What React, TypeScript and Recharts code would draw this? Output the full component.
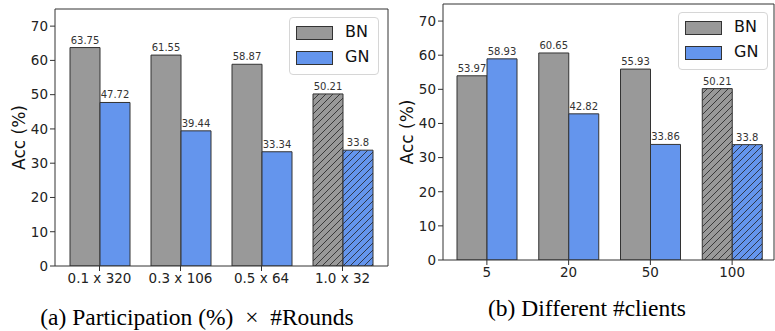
import React from "react";
import { BarChart, Bar, XAxis, YAxis, Cell, LabelList } from "recharts";

const participationCats = ["0.1 x 320", "0.3 x 106", "0.5 x 64", "1.0 x 32"];
const participationBN = [63.75, 61.55, 58.87, 50.21];
const participationGN = [47.72, 39.44, 33.34, 33.8];

const clientCats = ["5", "20", "50", "100"];
const clientBN = [53.97, 60.65, 55.93, 50.21];
const clientGN = [58.93, 42.82, 33.86, 33.8];

const yTicks = [0, 10, 20, 30, 40, 50, 60, 70];
const seriesNames = ["BN", "GN"];

// the last group (full participation / 100 clients) is hatched
const HATCHED = 3;

const GRAY = "#999999";
const BLUE = "#6495ED";
const EDGE = "#333333";
const FONT = "'DejaVu Sans', sans-serif";

function buildRows(cats: string[], bn: number[], gn: number[]) {
  return cats.map((c, i) => ({ cat: c, BN: bn[i], GN: gn[i] }));
}

function LegendBox({ left, top }: { left: number; top: number }) {
  const items = [
    { name: seriesNames[0], color: GRAY },
    { name: seriesNames[1], color: BLUE },
  ];
  return (
    <div
      style={{
        position: "absolute",
        left,
        top,
        width: 88,
        height: 56,
        border: "1px solid #d6d6d6",
        borderRadius: 4,
        background: "rgba(255,255,255,0.85)",
        fontFamily: FONT,
      }}
    >
      {items.map((it, i) => (
        <div key={it.name}>
          <div
            style={{
              position: "absolute",
              left: 6,
              top: 8 + i * 25,
              width: 35,
              height: 12,
              background: it.color,
              border: `1px solid ${EDGE}`,
            }}
          />
          <div
            style={{
              position: "absolute",
              left: 55,
              top: 4 + i * 25,
              fontSize: 16,
              lineHeight: "20px",
              color: "#111",
            }}
          >
            {it.name}
          </div>
        </div>
      ))}
    </div>
  );
}

interface PanelProps {
  cats: string[];
  bn: number[];
  gn: number[];
  width: number;
  height: number;
  margin: { top: number; right: number; left: number; bottom: number };
  yWidth: number;
  labelOffset: number;
  padding: { left: number; right: number };
}

function Panel({ cats, bn, gn, width, height, margin, yWidth, labelOffset, padding }: PanelProps) {
  const rows = buildRows(cats, bn, gn);
  const tickStyle = { fontSize: 13.5, fill: "#222", fontFamily: FONT };
  const valueStyle = { fontSize: 10, fill: "#333", fontFamily: FONT };
  return (
    <BarChart
      width={width}
      height={height}
      data={rows}
      margin={margin}
      barGap={0}
      barCategoryGap={11}
    >
      <XAxis
        dataKey="cat"
        height={34}
        padding={padding}
        tick={tickStyle}
        tickSize={5}
        tickMargin={2}
        stroke={EDGE}
        interval={0}
      />
      {/* top and right spines to close the box */}
      <XAxis
        xAxisId="top"
        dataKey="cat"
        orientation="top"
        height={1}
        tick={false}
        tickLine={false}
        stroke={EDGE}
      />
      <YAxis
        width={yWidth}
        domain={[0, 75]}
        ticks={yTicks}
        tick={tickStyle}
        tickSize={5}
        tickMargin={2}
        stroke={EDGE}
        allowDataOverflow
        label={{
          value: "Acc (%)",
          angle: -90,
          position: "insideLeft",
          offset: labelOffset,
          style: { fontSize: 17, fill: "#111", fontFamily: FONT, textAnchor: "middle" },
        }}
      />
      <YAxis
        yAxisId="right"
        orientation="right"
        width={1}
        domain={[0, 75]}
        tick={false}
        tickLine={false}
        stroke={EDGE}
      />
      <Bar dataKey="BN" fill={GRAY} stroke={EDGE} strokeWidth={1} isAnimationActive={false}>
        {rows.map((_, i) => (
          <Cell key={`bn-${i}`} fill={i === HATCHED ? "url(#hatchGray)" : GRAY} />
        ))}
        <LabelList dataKey="BN" position="top" offset={4} style={valueStyle} />
      </Bar>
      <Bar dataKey="GN" fill={BLUE} stroke={EDGE} strokeWidth={1} isAnimationActive={false}>
        {rows.map((_, i) => (
          <Cell key={`gn-${i}`} fill={i === HATCHED ? "url(#hatchBlue)" : BLUE} />
        ))}
        <LabelList dataKey="GN" position="top" offset={4} style={valueStyle} />
      </Bar>
    </BarChart>
  );
}

function HatchDefs() {
  const hatch = (id: string, color: string) => (
    <pattern id={id} patternUnits="userSpaceOnUse" width={7} height={7}>
      <rect width={7} height={7} fill={color} />
      <path d="M0,7 L7,0 M-1,1 L1,-1 M6,8 L8,6" stroke="#222" strokeWidth={0.8} />
    </pattern>
  );
  return (
    <svg width={0} height={0} style={{ position: "absolute" }}>
      <defs>
        {hatch("hatchGray", GRAY)}
        {hatch("hatchBlue", BLUE)}
      </defs>
    </svg>
  );
}

export default function App() {
  const captionStyle = { fontFamily: "'Liberation Serif', serif", fontSize: 23.5, fill: "#000" };
  return (
    <div
      style={{
        position: "absolute",
        left: 0,
        top: 0,
        width: 775,
        height: 331,
        background: "#fff",
        overflow: "hidden",
      }}
    >
      <HatchDefs />
      <div style={{ position: "absolute", left: 0, top: 0, width: 390, height: 300 }}>
        <Panel
          cats={participationCats}
          bn={participationBN}
          gn={participationGN}
          width={390}
          height={300}
          margin={{ top: 8, right: 1, left: 0, bottom: 0 }}
          yWidth={55}
          labelOffset={19}
          padding={{ left: 4, right: 5 }}
        />
        <LegendBox left={289} top={17} />
      </div>
      <div style={{ position: "absolute", left: 390, top: 0, width: 385, height: 294 }}>
        <Panel
          cats={clientCats}
          bn={clientBN}
          gn={clientGN}
          width={385}
          height={294}
          margin={{ top: 3, right: 0, left: 0, bottom: 0 }}
          yWidth={53}
          labelOffset={17}
          padding={{ left: 3, right: 1 }}
        />
        <LegendBox left={288} top={12} />
      </div>
      <svg
        width={775}
        height={331}
        style={{ position: "absolute", left: 0, top: 0, pointerEvents: "none" }}
      >
        <text x={197} y={325} textAnchor="middle" style={captionStyle}>
          (a) Participation (%){"\u2002×\u2002"}#Rounds
        </text>
        <text x={587} y={316} textAnchor="middle" style={captionStyle}>
          (b) Different #clients
        </text>
      </svg>
    </div>
  );
}
